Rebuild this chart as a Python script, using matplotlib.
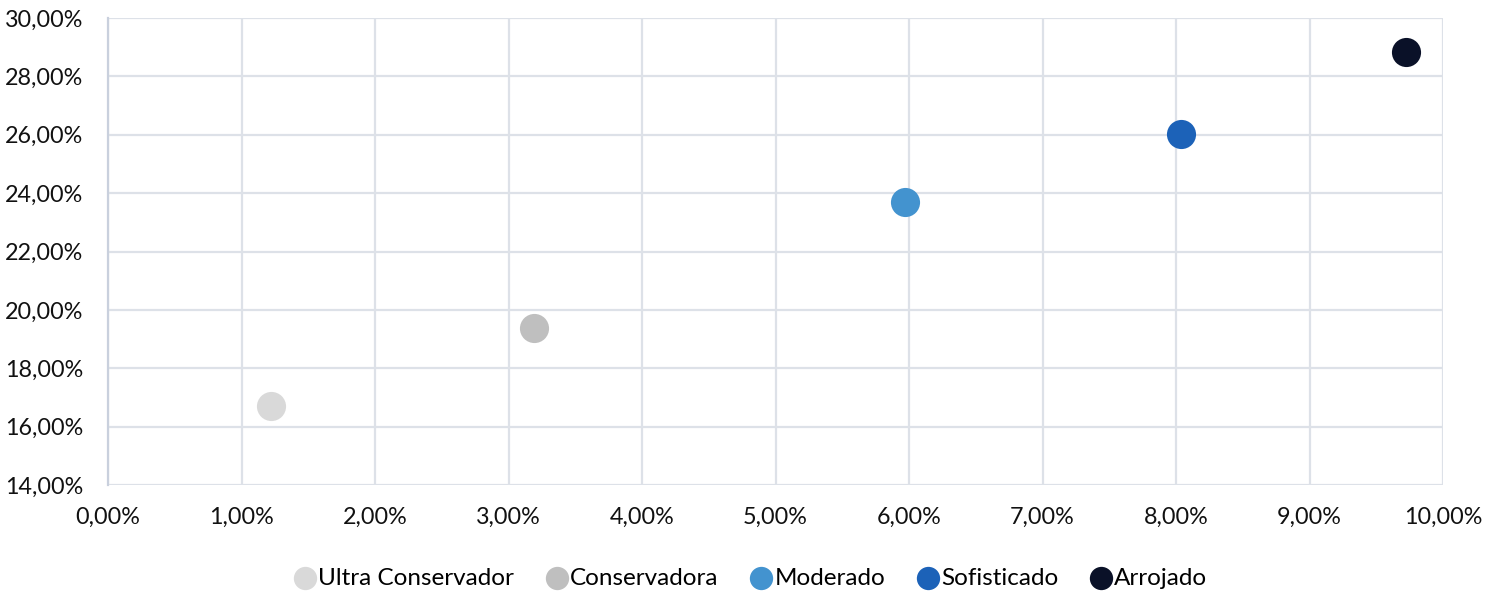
import matplotlib.pyplot as plt
from matplotlib.ticker import FuncFormatter

plt.rcParams['font.family'] = ['Lato', 'DejaVu Sans']

perfis = ["Ultra Conservador", "Conservadora", "Moderado", "Sofisticado", "Arrojado"]
retorno = [1.22, 3.19, 5.97, 8.04, 9.72]      # eixo x (%)
volatilidade = [16.72, 19.38, 23.70, 26.03, 28.84]  # eixo y (%)
cores = ["#D9D9D9", "#BFBFBF", "#4393CF", "#1C62B8", "#0A1128"]

fig = plt.figure(figsize=(15.01, 5.93), dpi=100)
ax = fig.add_axes([108/1501, 1-485/593, (1443-108)/1501, (485-18)/593])

for nome, x, y, c in zip(perfis, retorno, volatilidade, cores):
    ax.scatter(x, y, s=440, color=c, label=nome, zorder=3, linewidths=0)

ax.set_xlim(0, 10)
ax.set_ylim(14, 30)
ax.set_xticks(range(0, 11))
ax.set_yticks(range(14, 31, 2))
fmt = FuncFormatter(lambda v, p: f"{v:.2f}%".replace(".", ","))
ax.xaxis.set_major_formatter(fmt)
ax.yaxis.set_major_formatter(fmt)

ax.grid(True, color="#DDE1E8", linewidth=1.6, zorder=0)
ax.set_axisbelow(True)
for s in ["top", "right", "bottom"]:
    ax.spines[s].set_visible(False)
ax.spines["left"].set_color("#C9D0DD")
ax.spines["left"].set_linewidth(1.6)
ax.tick_params(length=0, labelsize=16.8, colors="#111111")
ax.tick_params(axis="y", pad=18)
ax.tick_params(axis="x", pad=16)

fig.legend(loc="center", bbox_to_anchor=(0.5, 1-578/593), ncol=5, frameon=False,
           fontsize=17.5, handlelength=0.9, handletextpad=0.1, columnspacing=1.3,
           markerscale=0.8, borderaxespad=0)

fig.savefig("out.png", dpi=100)
